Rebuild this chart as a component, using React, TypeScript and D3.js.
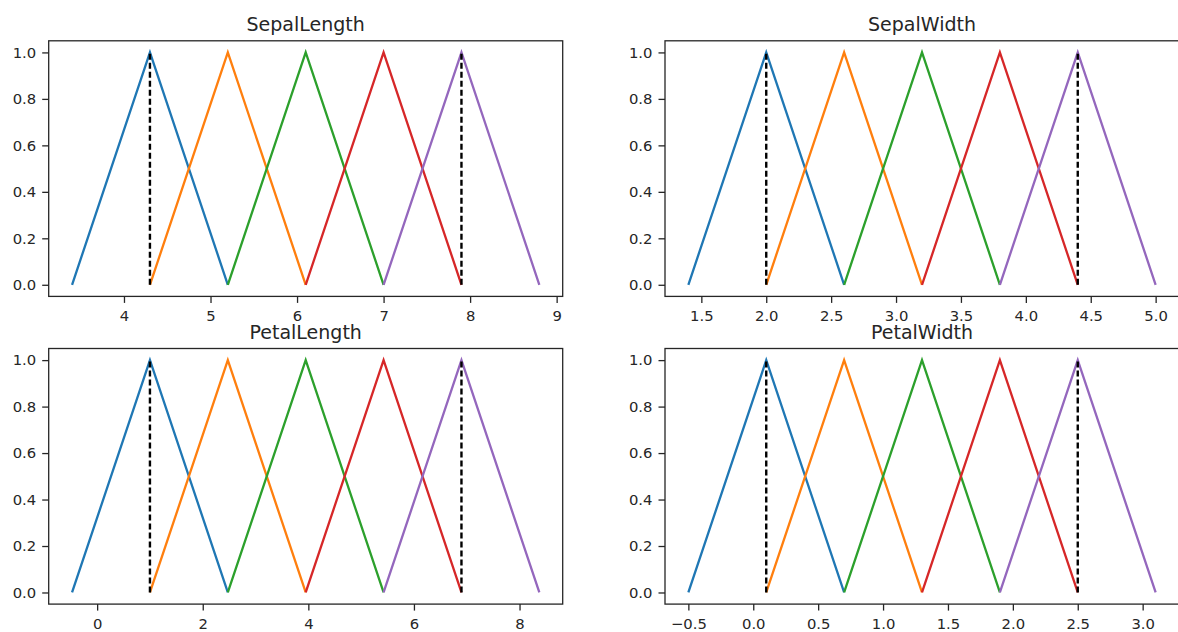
import React, { useEffect, useRef } from 'react';
import * as d3 from 'd3';

// feature names (subplot titles)
const features = ['SepalLength', 'SepalWidth', 'PetalLength', 'PetalWidth'];

// triangular fuzzy sets per feature: [left foot, peak, right foot]
const sepalLengthSets = [[3.4, 4.3, 5.2], [4.3, 5.2, 6.1], [5.2, 6.1, 7.0], [6.1, 7.0, 7.9], [7.0, 7.9, 8.8]];
const sepalWidthSets = [[1.4, 2.0, 2.6], [2.0, 2.6, 3.2], [2.6, 3.2, 3.8], [3.2, 3.8, 4.4], [3.8, 4.4, 5.0]];
const petalLengthSets = [[-0.475, 1.0, 2.475], [1.0, 2.475, 3.95], [2.475, 3.95, 5.425], [3.95, 5.425, 6.9], [5.425, 6.9, 8.375]];
const petalWidthSets = [[-0.5, 0.1, 0.7], [0.1, 0.7, 1.3], [0.7, 1.3, 1.9], [1.3, 1.9, 2.5], [1.9, 2.5, 3.1]];

// min / max of each feature (dashed markers)
const sepalLengthRange = [4.3, 7.9];
const sepalWidthRange = [2.0, 4.4];
const petalLengthRange = [1.0, 6.9];
const petalWidthRange = [0.1, 2.5];

// tick labels
const sepalLengthTicks = [4, 5, 6, 7, 8, 9];
const sepalWidthTicks = [1.5, 2.0, 2.5, 3.0, 3.5, 4.0, 4.5, 5.0];
const petalLengthTicks = [0, 2, 4, 6, 8];
const petalWidthTicks = [-0.5, 0.0, 0.5, 1.0, 1.5, 2.0, 2.5, 3.0];
const yTicks = [0.0, 0.2, 0.4, 0.6, 0.8, 1.0];

const colors = ['#1f77b4', '#ff7f0e', '#2ca02c', '#d62728', '#9467bd'];

const panels = [
  { title: features[0], sets: sepalLengthSets, range: sepalLengthRange, ticks: sepalLengthTicks, digits: 0 },
  { title: features[1], sets: sepalWidthSets, range: sepalWidthRange, ticks: sepalWidthTicks, digits: 1 },
  { title: features[2], sets: petalLengthSets, range: petalLengthRange, ticks: petalLengthTicks, digits: 0 },
  { title: features[3], sets: petalWidthSets, range: petalWidthRange, ticks: petalWidthTicks, digits: 1 },
];

const W = 1178;
const H = 632;
const colX = [48.7, 665];
const rowY = [40.8, 348.5];
const pw = 514;
const ph = 255.6;
const font = 'DejaVu Sans, sans-serif';

const App = () => {
  const svgRef = useRef<SVGSVGElement>(null);

  useEffect(() => {
    const svg = d3.select(svgRef.current);
    svg.selectAll('*').remove();

    panels.forEach((p, i) => {
      const left = colX[i % 2];
      const top = rowY[Math.floor(i / 2)];
      const g = svg.append('g').attr('transform', `translate(${left},${top})`);

      const ext = d3.extent(p.sets.flat()) as [number, number];
      const pad = (ext[1] - ext[0]) * 0.05;
      const x = d3.scaleLinear().domain([ext[0] - pad, ext[1] + pad]).range([0, pw]);
      const y = d3.scaleLinear().domain([-0.05, 1.05]).range([ph, 0]);

      const line = d3.line<[number, number]>().x(d => x(d[0])).y(d => y(d[1]));

      p.sets.forEach((s, k) => {
        g.append('path')
          .attr('d', line([[s[0], 0], [s[1], 1], [s[2], 0]]))
          .attr('fill', 'none')
          .attr('stroke', colors[k])
          .attr('stroke-width', 2.3);
      });

      p.range.forEach(v => {
        g.append('path')
          .attr('d', line([[v, 0], [v, 1]]))
          .attr('fill', 'none')
          .attr('stroke', '#000')
          .attr('stroke-width', 2.4)
          .attr('stroke-dasharray', '6,3');
      });

      // frame
      g.append('rect')
        .attr('x', 0).attr('y', 0).attr('width', pw).attr('height', ph)
        .attr('fill', 'none').attr('stroke', '#262626').attr('stroke-width', 1.3);

      const fmtX = (d: number) => d3.format(`.${p.digits}f`)(d).replace('-', '\u2212');

      const xa = g.append('g')
        .attr('transform', `translate(0,${ph})`)
        .call(d3.axisBottom(x).tickValues(p.ticks).tickFormat(fmtX as any).tickSize(6.5).tickPadding(8));
      const ya = g.append('g')
        .call(d3.axisLeft(y).tickValues(yTicks).tickFormat(d3.format('.1f') as any).tickSize(6.5).tickPadding(6));

      [xa, ya].forEach(a => {
        a.select('.domain').remove();
        a.selectAll('line').attr('stroke', '#262626').attr('stroke-width', 1.3);
        a.selectAll('text')
          .attr('fill', '#262626')
          .style('font-family', font)
          .style('font-size', '14.8px');
      });

      g.append('text')
        .attr('x', pw / 2)
        .attr('y', -9.8)
        .attr('text-anchor', 'middle')
        .attr('fill', '#262626')
        .style('font-family', font)
        .style('font-size', '19px')
        .text(p.title);
    });
  }, []);

  return (
    <div style={{ position: 'absolute', left: 0, top: 0, width: W, height: H, background: '#fff' }}>
      <svg ref={svgRef} width={W} height={H} viewBox={`0 0 ${W} ${H}`} />
    </div>
  );
};

export default App;
